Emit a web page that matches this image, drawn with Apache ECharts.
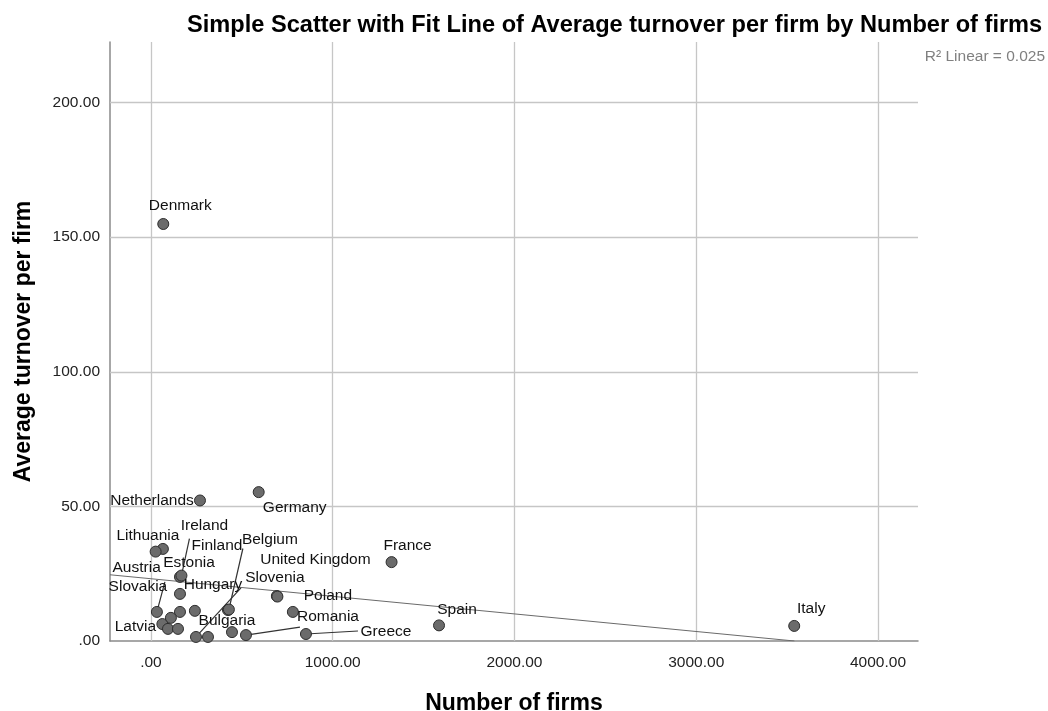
<!DOCTYPE html>
<html><head><meta charset="utf-8">
<script src="https://cdn.jsdelivr.net/npm/echarts@6/dist/echarts.min.js"></script>
<style>html,body{margin:0;padding:0;background:#fff}#chart{width:1048px;height:711px}</style>
</head><body><div id="chart"></div>
<script>
// ---- data ----
const countries = ['Denmark','Netherlands','Germany','Lithuania','Austria','Estonia','Ireland','Finland','Belgium','Slovakia','Hungary','Slovenia','United Kingdom','Poland','Romania','Greece','France','Spain','Italy','Latvia','Bulgaria','Czechia','Croatia','Cyprus','Luxembourg','Malta','Portugal','Sweden'];
const firms    = [68, 270, 593, 66, 26, 160, 168, 424, 429, 33, 248, 693, 696, 781, 523, 853, 1324, 1585, 3539, 63, 446, 160, 160, 242, 94, 110, 149, 314];
const turnover = [154.9, 52.2, 55.3, 34.2, 33.2, 23.8, 24.3, 11.5, 11.7, 10.8, 1.5, 16.7, 16.5, 10.8, 2.2, 2.6, 29.3, 5.8, 5.6, 6.3, 3.3, 17.5, 10.8, 11.2, 4.5, 8.6, 4.5, 1.5];
const fitLineX = [-225, 3540];
const fitLineY = [24.6, 0];
const xTicks = [0, 1000, 2000, 3000, 4000];
const yTicks = [0, 50, 100, 150, 200];
const r2Text = 'R\u00b2 Linear = 0.025';

// ---- layout (label placement, pixel offsets from each point) ----
const labelOffsets = {
  'Denmark':[17,-18], 'Netherlands':[-48,0], 'Germany':[36,16], 'Lithuania':[-15,-13],
  'Austria':[-19,16], 'Estonia':[9,-14], 'Ireland':[23,-50], 'Finland':[-11,-64],
  'Belgium':[41,-70], 'Slovakia':[-19,-25], 'Hungary':[17,-52], 'Slovenia':[-2,-18],
  'United Kingdom':[38,-37], 'Poland':[35,-16], 'Romania':[82,-18], 'Greece':[80,-2],
  'France':[16,-16], 'Spain':[18,-16], 'Italy':[17,-17], 'Latvia':[-27,3], 'Bulgaria':[-5,-11]
};
const leaderEnds = {
  'Ireland':[8,-37], 'Slovakia':[8,-30], 'Belgium':[14,-61], 'Hungary':[45,-49],
  'Romania':[54,-8], 'Greece':[52,-3]
};

const FONT = "'Liberation Sans', Arial, sans-serif";
const fmt = v => v === 0 ? '.00' : v.toFixed(2);

const pointData = countries.map((c, i) => {
  const off = labelOffsets[c];
  return {
    name: c,
    value: [firms[i], turnover[i]],
    label: off ? { show: true, position: 'inside', offset: off } : { show: false }
  };
});
const leaderData = countries.map((c, i) => ({ name: c, value: [firms[i], turnover[i]] }))
  .filter(d => leaderEnds[d.name]);

const gridLines = xTicks.map(v => ({ xAxis: v }))
  .concat(yTicks.filter(v => v !== 0).map(v => ({ yAxis: v })));

const chart = echarts.init(document.getElementById('chart'), null, { renderer: 'canvas' });
chart.setOption({
  animation: false,
  backgroundColor: '#fff',
  textStyle: { fontFamily: FONT },
  title: {
    text: 'Simple Scatter with Fit Line of Average turnover per firm by Number of firms',
    left: 182, top: 8,
    textStyle: { fontFamily: FONT, fontSize: 23.6, fontWeight: 'bold', color: '#000' }
  },
  graphic: [{
    type: 'text', right: 3, top: 49,
    style: { text: r2Text, font: '15.5px ' + FONT, fill: '#808080' }
  }],
  grid: { left: 110, right: 130, top: 42, bottom: 70, containLabel: false, outerBoundsMode: 'none' },
  xAxis: {
    type: 'value', min: -225, max: 4220,
    name: 'Number of firms', nameLocation: 'middle', nameGap: 51,
    nameTextStyle: { fontFamily: FONT, fontSize: 23, fontWeight: 'bold', color: '#000' },
    axisLine: { show: true, onZero: false, lineStyle: { color: '#8a8a8a', width: 1.5 } },
    axisTick: { show: false },
    splitLine: { show: false },
    axisLabel: { customValues: xTicks, formatter: fmt, fontSize: 15.5, color: '#222', margin: 14 }
  },
  yAxis: {
    type: 'value', min: 0, max: 222.5,
    name: 'Average turnover per firm', nameLocation: 'middle', nameGap: 75,
    nameTextStyle: { fontFamily: FONT, fontSize: 23, fontWeight: 'bold', color: '#000' },
    axisLine: { show: true, onZero: false, lineStyle: { color: '#8a8a8a', width: 1.5 } },
    axisTick: { show: false },
    splitLine: { show: false },
    axisLabel: { customValues: yTicks, formatter: fmt, fontSize: 15.5, color: '#222', margin: 10 }
  },
  series: [
    {
      type: 'line', z: 2, silent: true, showSymbol: false, clip: true,
      data: fitLineX.map((x, i) => [x, fitLineY[i]]),
      lineStyle: { color: '#6a6a6a', width: 1 },
      markLine: {
        silent: true, symbol: 'none', label: { show: false }, animation: false,
        lineStyle: { color: '#c6c6c6', width: 1.3, type: 'solid' },
        data: gridLines, z: 1
      }
    },
    {
      type: 'custom', z: 3, silent: true,
      data: leaderData,
      renderItem: (params, api) => {
        const p = api.coord([api.value(0), api.value(1)]);
        const e = leaderEnds[leaderData[params.dataIndex].name];
        return {
          type: 'line',
          shape: { x1: p[0], y1: p[1], x2: p[0] + e[0], y2: p[1] + e[1] },
          style: { stroke: '#333', lineWidth: 1.2 }
        };
      },
      encode: { x: 0, y: 1 }
    },
    {
      type: 'scatter', z: 4, symbolSize: 11,
      data: pointData,
      itemStyle: { color: '#6b6b6b', borderColor: '#2e2e2e', borderWidth: 1, opacity: 1 },
      label: { formatter: '{b}', fontFamily: FONT, fontSize: 15.5, color: '#111' }
    }
  ]
});
</script>
</body></html>
